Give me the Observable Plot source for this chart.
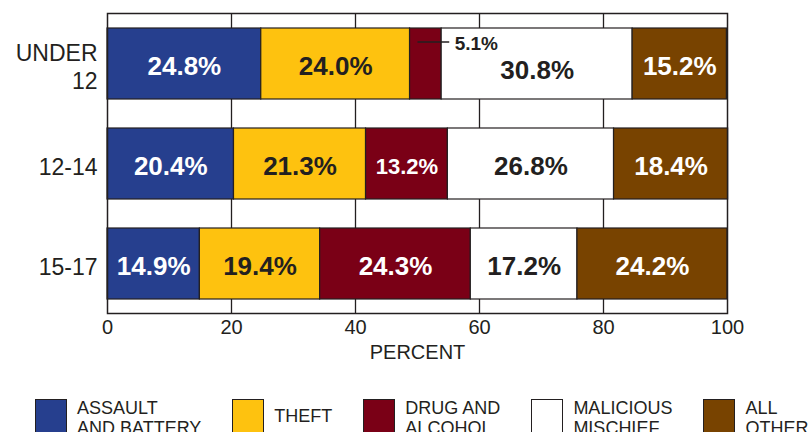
<!DOCTYPE html>
<html>
<head>
<meta charset="utf-8">
<script src="https://cdn.jsdelivr.net/npm/d3@7"></script>
<script src="https://cdn.jsdelivr.net/npm/@observablehq/plot@0.6"></script>
<style>
  html, body { margin: 0; padding: 0; background: #fff; }
  #wrap { position: relative; width: 812px; height: 432px; overflow: hidden; font-family: "Liberation Sans", Arial, sans-serif; color: #231f20; }
  #legend { position: absolute; top: 398px; left: 35px; display: flex; gap: 31px; font-size: 18px; line-height: 20px; }
  .item { display: flex; align-items: flex-start; }
  .sw { box-sizing: border-box; width: 32px; height: 36px; border: 1.5px solid #231f20; margin-right: 10px; margin-top: 1px; }
  .one { margin-top: 8px; }
</style>
</head>
<body>
<div id="wrap"><div id="chart"></div><div id="legend"></div></div>
<script>
// ---- data ----
const ages = ["UNDER\n12", "12-14", "15-17"];
const categories = ["ASSAULT AND BATTERY", "THEFT", "DRUG AND ALCOHOL", "MALICIOUS MISCHIEF", "ALL OTHER"];
const legendLabels = [["ASSAULT", "AND BATTERY"], ["THEFT"], ["DRUG AND", "ALCOHOL"], ["MALICIOUS", "MISCHIEF"], ["ALL", "OTHER"]];
const assault = [24.8, 20.4, 14.9];
const theft = [24.0, 21.3, 19.4];
const drug = [5.1, 13.2, 24.3];
const malicious = [30.8, 26.8, 17.2];
const other = [15.2, 18.4, 24.2];
const xTicks = [0, 20, 40, 60, 80, 100];
const gridTicks = [20, 40, 60, 80];
const axisLabel = "PERCENT";

// ---- styles ----
const colors = ["#263f8e", "#fec20f", "#7a0016", "#ffffff", "#784300"];
const whiteText = [true, false, true, false, true];
const ink = "#231f20";

// ---- table ----
const series = [assault, theft, drug, malicious, other];
const rows = [];
ages.forEach((age, i) => {
  let acc = 0;
  let prevSmall = false;
  series.forEach((vals, j) => {
    const v = vals[i];
    rows.push({age, category: categories[j], value: v, x1: acc, x2: acc + v,
               mid: acc + v / 2, white: whiteText[j], small: v < 8, afterSmall: prevSmall});
    prevSmall = v < 8;
    acc += v;
  });
});
const fmt = d => d.value.toFixed(1) + "%";
const big = rows.filter(d => !d.small);
const small = rows.filter(d => d.small);

const chart = Plot.plot({
  width: 812, height: 380,
  marginTop: 13, marginBottom: 67, marginLeft: 107, marginRight: 85,
  style: {fontFamily: "'Liberation Sans', Arial, sans-serif", color: ink, background: "#fff"},
  x: {domain: [0, 100]},
  y: {domain: ages, paddingInner: 0.29, paddingOuter: 0.145, axis: null},
  color: {domain: categories, range: colors},
  marks: [
    Plot.gridX(gridTicks, {stroke: ink, strokeOpacity: 1, strokeWidth: 1.3}),
    Plot.barX(rows, {x1: "x1", x2: "x2", y: "age", fill: "category", stroke: ink, strokeWidth: 1.2}),
    Plot.frame({stroke: ink, strokeWidth: 1.5}),
    Plot.axisX(xTicks, {tickSize: 0, tickPadding: 6, fontSize: 20, label: null, fill: ink}),
    Plot.text([axisLabel], {text: d => d, frameAnchor: "bottom", dy: 45, fontSize: 20, fill: ink}),
    Plot.text(ages, {y: d => d, text: d => d, frameAnchor: "left", textAnchor: "end", dx: -10, dy: 2,
                     fontSize: 23, lineHeight: 1.22, fill: ink}),
    Plot.text(big.filter(d => !d.afterSmall), {x: "mid", y: "age", text: fmt, dy: 3,
      fontSize: d => d.value < 14 ? 22 : 26, fontWeight: "bold", fill: d => d.white ? "white" : ink}),
    Plot.text(big.filter(d => d.afterSmall), {x: "mid", y: "age", text: fmt, dy: 7,
      fontSize: 26, fontWeight: "bold", fill: ink}),
    Plot.ruleY(small, {y: "age", x1: d => d.x1 + d.value * 0.25, x2: d => d.x2 + 1.3, dy: -22,
      stroke: ink, strokeWidth: 1.5}),
    Plot.text(small, {x: "x2", y: "age", text: fmt, textAnchor: "start", dx: 13, dy: -20,
      fontSize: 19, fontWeight: "bold", fill: ink})
  ]
});
document.getElementById("chart").appendChild(chart);

// ---- legend ----
const legend = document.getElementById("legend");
categories.forEach((c, j) => {
  const item = document.createElement("div");
  item.className = "item";
  const sw = document.createElement("div");
  sw.className = "sw";
  sw.style.background = colors[j];
  const lab = document.createElement("div");
  if (legendLabels[j].length === 1) lab.className = "one";
  lab.innerHTML = legendLabels[j].join("<br>");
  item.appendChild(sw);
  item.appendChild(lab);
  legend.appendChild(item);
});
</script>
</body>
</html>
